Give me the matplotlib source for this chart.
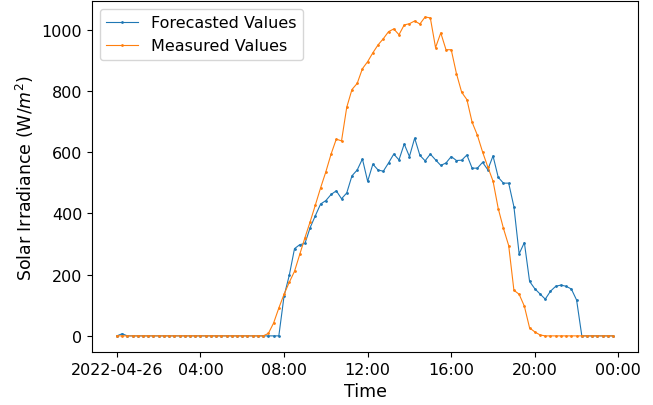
import numpy as np
import pandas as pd
import matplotlib
matplotlib.use("Agg")
from matplotlib import pyplot as plt

# 15-minute readings for one day
times = pd.date_range("2022-04-26 00:00", periods=96, freq="15min")

forecast = [0, 7, 0, 0, 0, 0, 0, 0, 0, 0, 0, 0, 0, 0, 0, 0,
            0, 0, 0, 0, 0, 0, 0, 0, 0, 0, 0, 0, 0, 0, 0, 0,
            130, 198, 285, 298, 302, 354, 393, 431, 442, 462, 474, 448, 467, 523, 542, 578,
            505, 561, 542, 538, 565, 594, 575, 627, 586, 646, 590, 572, 594, 575, 557, 565,
            586, 573, 574, 591, 548, 548, 567, 543, 588, 518, 499, 499, 422, 268, 305, 178,
            154, 137, 120, 146, 162, 166, 162, 153, 117, 0, 0, 0, 0, 0, 0, 0]

measured = [0, 0, 0, 0, 0, 0, 0, 0, 0, 0, 0, 0, 0, 0, 0, 0,
            0, 0, 0, 0, 0, 0, 0, 0, 0, 0, 0, 0, 0, 8, 42, 91,
            136, 175, 211, 266, 321, 373, 428, 484, 536, 594, 643, 637, 747, 805, 825, 873,
            896, 925, 951, 971, 994, 1003, 984, 1016, 1020, 1029, 1019, 1042, 1039, 942, 990, 935,
            935, 857, 796, 772, 698, 656, 601, 552, 506, 416, 351, 295, 149, 136, 97, 26,
            13, 3, 0, 0, 0, 0, 0, 0, 0, 0, 0, 0, 0, 0, 0, 0]

tick_times = pd.date_range("2022-04-26 00:00", "2022-04-27 00:00", freq="4h")
tick_labels = ["2022-04-26", "04:00", "08:00", "12:00", "16:00", "20:00", "00:00"]

fig, ax = plt.subplots(figsize=(6.53, 4.06), dpi=100)
fig.subplots_adjust(left=0.141, right=0.977, top=0.995, bottom=0.131)

ax.plot(times, forecast, marker='.', markersize=2, linewidth=0.8, label='Forecasted Values')
ax.plot(times, measured, marker='.', markersize=2, linewidth=0.8, label='Measured Values')

ax.set_xticks(tick_times)
ax.set_xticklabels(tick_labels)
ax.tick_params(labelsize=11.5)
ax.set_xlabel('Time', fontsize=12.5)
ax.set_ylabel('Solar Irradiance (W/$m^2$)', fontsize=12.5)
ax.legend(loc='upper left', fontsize=11.5)

fig.savefig('out.png')
